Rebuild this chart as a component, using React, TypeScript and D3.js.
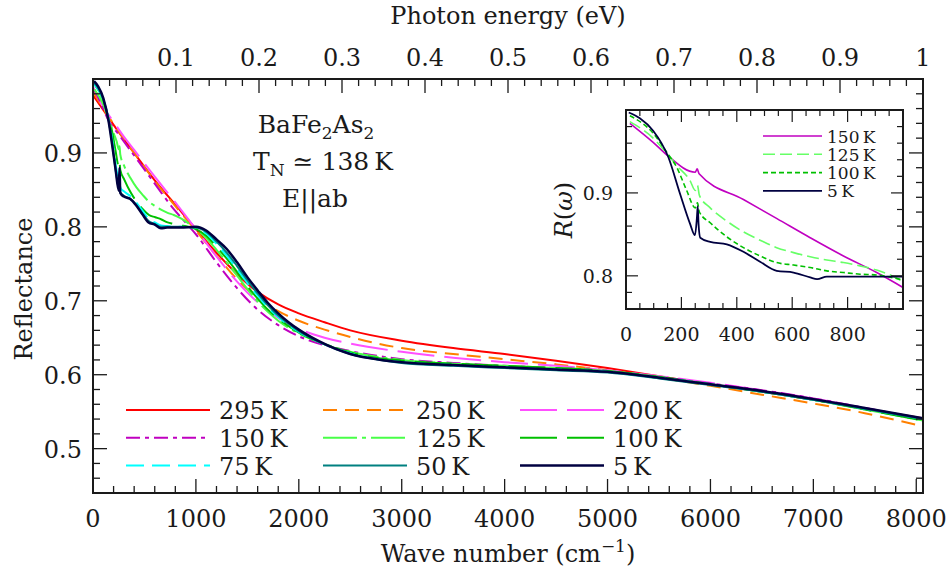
import * as d3 from "d3";

type Pt = [number, number];

// reflectance curves, main panel: [wave number cm^-1, R]
const r295: Pt[] = [[0, 0.978], [100, 0.958], [200, 0.938], [400, 0.9], [600, 0.863], [800, 0.83], [1000, 0.797], [1200, 0.765], [1400, 0.736], [1600, 0.712], [1800, 0.695], [2000, 0.683], [2250, 0.671], [2500, 0.66], [3000, 0.646], [3500, 0.636], [4000, 0.628], [4500, 0.619], [5000, 0.609], [5500, 0.598], [6000, 0.587], [6500, 0.577], [7000, 0.566], [7500, 0.554], [8065, 0.541]];
const r250: Pt[] = [[0, 0.983], [100, 0.96], [200, 0.939], [400, 0.9], [600, 0.862], [800, 0.828], [1000, 0.795], [1200, 0.761], [1400, 0.729], [1600, 0.704], [1800, 0.686], [2000, 0.673], [2250, 0.661], [2500, 0.651], [3000, 0.636], [3500, 0.628], [4000, 0.621], [4500, 0.614], [5000, 0.606], [5500, 0.596], [6000, 0.585], [6500, 0.573], [7000, 0.561], [7500, 0.548], [8065, 0.53]];
const r200: Pt[] = [[0, 0.99], [50, 0.975], [100, 0.962], [200, 0.942], [300, 0.922], [400, 0.904], [600, 0.868], [800, 0.833], [1000, 0.797], [1200, 0.76], [1400, 0.726], [1600, 0.698], [1800, 0.677], [2000, 0.662], [2250, 0.65], [2500, 0.642], [3000, 0.631], [3500, 0.623], [4000, 0.617], [4500, 0.612], [5000, 0.606], [5500, 0.598], [6000, 0.589], [6500, 0.579], [7000, 0.568], [7500, 0.555], [8065, 0.54]];
const r150: Pt[] = [[0, 0.986], [14, 0.984], [98, 0.96], [147, 0.945], [255, 0.924], [424, 0.892], [545, 0.869], [665, 0.846], [785, 0.824], [905, 0.805], [1000, 0.79], [1200, 0.752], [1400, 0.717], [1600, 0.688], [1800, 0.667], [2000, 0.652], [2250, 0.64], [2500, 0.632], [3000, 0.621], [3500, 0.616], [4000, 0.612], [4500, 0.609], [5000, 0.605], [5500, 0.597], [6000, 0.588], [6500, 0.579], [7000, 0.568], [7500, 0.555], [8065, 0.54]];
const r125: Pt[] = [[14, 0.986], [98, 0.966], [147, 0.948], [183, 0.933], [231, 0.915], [250, 0.905], [258, 0.909], [265, 0.898], [304, 0.882], [364, 0.866], [424, 0.853], [484, 0.843], [544, 0.834], [605, 0.828], [665, 0.823], [725, 0.819], [785, 0.816], [845, 0.812], [905, 0.807], [1000, 0.797], [1100, 0.785], [1200, 0.769], [1300, 0.752], [1400, 0.734], [1500, 0.716], [1600, 0.699], [1700, 0.685], [1800, 0.673], [2000, 0.656], [2200, 0.644], [2500, 0.631], [3000, 0.62], [3500, 0.615], [4000, 0.612], [4500, 0.609], [5000, 0.605], [5500, 0.597], [6000, 0.587], [6500, 0.577], [7000, 0.566], [7500, 0.553], [8065, 0.538]];
const r100: Pt[] = [[14, 0.993], [98, 0.972], [147, 0.949], [183, 0.931], [219, 0.903], [250, 0.882], [258, 0.888], [265, 0.877], [304, 0.864], [364, 0.847], [424, 0.834], [484, 0.824], [544, 0.816], [605, 0.813], [665, 0.81], [725, 0.806], [785, 0.804], [845, 0.802], [905, 0.801], [1000, 0.797], [1100, 0.788], [1200, 0.773], [1300, 0.757], [1400, 0.739], [1500, 0.72], [1600, 0.703], [1700, 0.688], [1800, 0.676], [2000, 0.657], [2200, 0.644], [2500, 0.63], [3000, 0.619], [3500, 0.615], [4000, 0.612], [4500, 0.609], [5000, 0.605], [5500, 0.597], [6000, 0.587], [6500, 0.577], [7000, 0.566], [7500, 0.553], [8065, 0.538]];
const r75: Pt[] = [[10, 0.993], [50, 0.986], [100, 0.972], [150, 0.947], [190, 0.915], [225, 0.88], [250, 0.862], [270, 0.852], [300, 0.848], [360, 0.842], [420, 0.833], [480, 0.822], [540, 0.811], [600, 0.806], [660, 0.802], [720, 0.801], [850, 0.8], [1000, 0.799], [1100, 0.791], [1200, 0.777], [1300, 0.761], [1400, 0.743], [1500, 0.724], [1600, 0.707], [1700, 0.691], [1800, 0.678], [2000, 0.658], [2200, 0.644], [2500, 0.629], [2800, 0.62], [3000, 0.617], [3500, 0.613], [4000, 0.61], [4500, 0.607], [5000, 0.604], [5500, 0.596], [6000, 0.587], [6500, 0.577], [7000, 0.566], [7500, 0.554], [8065, 0.54]];
const r50: Pt[] = [[10, 0.995], [50, 0.988], [100, 0.973], [150, 0.945], [190, 0.91], [225, 0.872], [250, 0.853], [265, 0.847], [300, 0.842], [360, 0.838], [420, 0.83], [480, 0.818], [540, 0.808], [600, 0.804], [660, 0.8], [720, 0.8], [850, 0.8], [1000, 0.799], [1100, 0.793], [1200, 0.78], [1300, 0.765], [1400, 0.747], [1500, 0.728], [1600, 0.71], [1700, 0.694], [1800, 0.68], [1900, 0.669], [2000, 0.659], [2200, 0.644], [2500, 0.628], [2800, 0.62], [3000, 0.616], [3500, 0.612], [4000, 0.609], [4500, 0.606], [5000, 0.603], [5500, 0.595], [6000, 0.586], [6500, 0.577], [7000, 0.566], [7500, 0.554], [8065, 0.54]];
const r5: Pt[] = [[10, 0.997], [50, 0.99], [100, 0.974], [150, 0.944], [185, 0.912], [220, 0.877], [250, 0.849], [258, 0.88], [265, 0.846], [300, 0.841], [360, 0.838], [420, 0.829], [480, 0.817], [540, 0.806], [600, 0.803], [660, 0.798], [720, 0.799], [850, 0.799], [1000, 0.8], [1100, 0.795], [1200, 0.783], [1300, 0.77], [1400, 0.752], [1500, 0.732], [1600, 0.714], [1700, 0.697], [1800, 0.683], [1900, 0.671], [2000, 0.661], [2200, 0.645], [2500, 0.628], [2800, 0.62], [3000, 0.617], [3500, 0.613], [4000, 0.61], [4500, 0.607], [5000, 0.604], [5500, 0.596], [6000, 0.587], [6500, 0.578], [7000, 0.567], [7500, 0.555], [8065, 0.541]];

// inset, far-infrared detail
const in150: Pt[] = [[14, 0.984], [98, 0.961], [147, 0.946], [250, 0.925], [257, 0.929], [264, 0.923], [424, 0.892], [545, 0.869], [665, 0.846], [785, 0.824], [905, 0.804], [1000, 0.786]];
const in125: Pt[] = [[14, 0.986], [98, 0.966], [147, 0.948], [183, 0.933], [231, 0.915], [250, 0.903], [258, 0.909], [265, 0.897], [304, 0.882], [364, 0.866], [424, 0.853], [484, 0.843], [544, 0.834], [605, 0.828], [665, 0.823], [725, 0.819], [785, 0.816], [845, 0.812], [905, 0.807], [960, 0.8], [1000, 0.793]];
const in100: Pt[] = [[14, 0.993], [98, 0.972], [147, 0.949], [183, 0.931], [219, 0.903], [250, 0.882], [258, 0.888], [265, 0.877], [304, 0.864], [364, 0.847], [424, 0.834], [484, 0.824], [544, 0.816], [605, 0.813], [665, 0.81], [725, 0.806], [785, 0.804], [845, 0.802], [905, 0.801], [1000, 0.795]];
const in5: Pt[] = [[10, 0.997], [50, 0.99], [98, 0.975], [153, 0.943], [195, 0.899], [231, 0.863], [249, 0.849], [256, 0.87], [259, 0.884], [262, 0.862], [268, 0.846], [304, 0.841], [364, 0.838], [424, 0.829], [484, 0.817], [544, 0.806], [605, 0.804], [665, 0.798], [690, 0.796], [725, 0.799], [846, 0.799], [1000, 0.799]];

const mainSeries = [
  { label: "295", data: r295, color: "#ff0000", dash: "", w: 2 },
  { label: "250", data: r250, color: "#ff8000", dash: "14 8", w: 2 },
  { label: "200", data: r200, color: "#ff50ff", dash: "37 10", w: 2 },
  { label: "150", data: r150, color: "#c000c0", dash: "14 5 4 5", w: 2 },
  { label: "125", data: r125, color: "#48ff48", dash: "34 5 4 5", w: 2 },
  { label: "100", data: r100, color: "#00c000", dash: "37 10", w: 2 },
  { label: "75", data: r75, color: "#00ffff", dash: "18 8", w: 2 },
  { label: "50", data: r50, color: "#008080", dash: "", w: 2 },
  { label: "5", data: r5, color: "#000040", dash: "", w: 2.5 },
];

const insetSeries = [
  { label: "150", data: in150, color: "#c000c0", dash: "", w: 1.6 },
  { label: "125", data: in125, color: "#66ff66", dash: "12 5", w: 1.6 },
  { label: "100", data: in100, color: "#00c000", dash: "5 3", w: 1.6 },
  { label: "5", data: in5, color: "#000040", dash: "", w: 1.8 },
];

const FONT = "DejaVu Serif";
const INK = "#1a1a1a";

export default function App() {
  const x = d3.scaleLinear().domain([0, 8065.5]).range([93, 923]);
  const y = d3.scaleLinear().domain([0.44, 1.0]).range([493, 79]);
  const eV = d3.scaleLinear().domain([0, 1]).range([93, 923]);
  const xi = d3.scaleLinear().domain([0, 1000]).range([626, 903]);
  const yi = d3.scaleLinear().domain([0.76, 1.0]).range([309, 110]);

  const line = d3.line<Pt>().x((d) => x(d[0])).y((d) => y(d[1])).curve(d3.curveMonotoneX);
  const lineI = d3.line<Pt>().x((d) => xi(d[0])).y((d) => yi(d[1])).curve(d3.curveMonotoneX);

  const isMajor = (v: number, step: number) => Math.abs(v / step - Math.round(v / step)) < 1e-6;

  const wnTicks = d3.range(0, 41).map((i) => i * 200);
  const eVTicks = d3.range(1, 51).map((i) => i * 0.02);
  const rTicks = d3.range(1, 28).map((i) => 0.44 + i * 0.02);
  const wnTicksI = d3.range(1, 20).map((i) => i * 50);
  const rTicksI = d3.range(1, 12).map((i) => 0.76 + i * 0.02);

  const [x0, x1] = x.range();
  const [y0, y1] = y.range();
  const [xi0, xi1] = xi.range();
  const [yi0, yi1] = yi.range();

  const legendRows = [
    [mainSeries[0], mainSeries[1], mainSeries[2]],
    [mainSeries[3], mainSeries[4], mainSeries[5]],
    [mainSeries[6], mainSeries[7], mainSeries[8]],
  ];

  return (
    <svg width={952} height={576} style={{ position: "absolute", left: 0, top: 0, background: "#fff" }} fontFamily={FONT}>
      <defs>
        <clipPath id="main-clip">
          <rect x={x0} y={y1} width={x1 - x0} height={y0 - y1} />
        </clipPath>
        <clipPath id="inset-clip">
          <rect x={xi0} y={yi1} width={xi1 - xi0} height={yi0 - yi1} />
        </clipPath>
      </defs>

      <g clipPath="url(#main-clip)" fill="none">
        {mainSeries.map((s) => (
          <path key={s.label} d={line(s.data) ?? ""} stroke={s.color} strokeWidth={s.w} strokeDasharray={s.dash} />
        ))}
      </g>

      {/* main ticks */}
      <g stroke={INK} strokeWidth={1.3}>
        {wnTicks.map((t) => {
          const L = isMajor(t, 1000) ? 14 : 7;
          return <line key={"b" + t} x1={x(t)} x2={x(t)} y1={y0} y2={y0 - L} />;
        })}
        {eVTicks.map((t) => {
          const L = isMajor(t, 0.1) ? 14 : 7;
          return <line key={"t" + t} x1={eV(t)} x2={eV(t)} y1={y1} y2={y1 + L} />;
        })}
        {rTicks.map((t) => {
          const L = isMajor(t, 0.1) ? 14 : 7;
          return (
            <g key={"l" + t}>
              <line x1={x0} x2={x0 + L} y1={y(t)} y2={y(t)} />
              <line x1={x1} x2={x1 - L} y1={y(t)} y2={y(t)} />
            </g>
          );
        })}
      </g>
      <rect x={x0} y={y1} width={x1 - x0} height={y0 - y1} fill="none" stroke={INK} strokeWidth={2} />

      {/* main tick labels */}
      <g fontSize={24} fill={INK}>
        {wnTicks.filter((t) => isMajor(t, 1000)).map((t) => (
          <text key={"bl" + t} x={x(t)} y={527} textAnchor="middle">{t}</text>
        ))}
        {eVTicks.filter((t) => isMajor(t, 0.1)).map((t) => (
          <text key={"tl" + t} x={eV(t)} y={66} textAnchor="middle">{Math.abs(t - 1) < 1e-6 ? "1" : d3.format(".1f")(t)}</text>
        ))}
        {rTicks.filter((t) => isMajor(t, 0.1)).map((t) => (
          <text key={"ll" + t} x={82} y={y(t) + 9} textAnchor="end">{d3.format(".1f")(t)}</text>
        ))}
        <text x={508} y={24} textAnchor="middle">Photon energy (eV)</text>
        <text x={508} y={562} textAnchor="middle">
          Wave number (cm<tspan fontSize={17} dy={-10}>−1</tspan><tspan dy={10}>)</tspan>
        </text>
        <text transform="translate(32,289) rotate(-90)" textAnchor="middle">Reflectance</text>
      </g>

      {/* sample annotation */}
      <g fontSize={25} fill={INK} textAnchor="middle">
        <text x={316} y={133}>
          BaFe<tspan fontSize={17} dy={6}>2</tspan><tspan dy={-6}>As</tspan><tspan fontSize={17} dy={6}>2</tspan>
        </text>
        <text x={323} y={170}>
          T<tspan fontSize={17} dy={6}>N</tspan><tspan dy={-6}> ≃ 138{"\u2009"}K</tspan>
        </text>
        <text x={315} y={207}>E||ab</text>
      </g>

      {/* main legend */}
      <g fontSize={24} fill={INK}>
        {legendRows.map((row, ri) =>
          row.map((s, ci) => {
            const lx = 126 + ci * 197;
            const ly = 410 + ri * 27.8;
            return (
              <g key={s.label}>
                <line x1={lx} x2={lx + 84} y1={ly} y2={ly} stroke={s.color} strokeWidth={s.w} strokeDasharray={s.dash} />
                <text x={lx + 93} y={ly + 9}>{s.label}{"\u2009"}K</text>
              </g>
            );
          })
        )}
      </g>

      {/* inset */}
      <rect x={xi0} y={yi1} width={xi1 - xi0} height={yi0 - yi1} fill="#fff" />
      <g clipPath="url(#inset-clip)" fill="none">
        {insetSeries.map((s) => (
          <path key={"i" + s.label} d={lineI(s.data) ?? ""} stroke={s.color} strokeWidth={s.w} strokeDasharray={s.dash} />
        ))}
      </g>
      <g stroke={INK} strokeWidth={1.2}>
        {wnTicksI.map((t) => {
          const L = isMajor(t, 200) ? 12 : 6;
          return (
            <g key={"ib" + t}>
              <line x1={xi(t)} x2={xi(t)} y1={yi0} y2={yi0 - L} />
              <line x1={xi(t)} x2={xi(t)} y1={yi1} y2={yi1 + L} />
            </g>
          );
        })}
        {rTicksI.map((t) => {
          const L = isMajor(t, 0.1) ? 12 : 6;
          return (
            <g key={"il" + t}>
              <line x1={xi0} x2={xi0 + L} y1={yi(t)} y2={yi(t)} />
              <line x1={xi1} x2={xi1 - L} y1={yi(t)} y2={yi(t)} />
            </g>
          );
        })}
      </g>
      <rect x={xi0} y={yi1} width={xi1 - xi0} height={yi0 - yi1} fill="none" stroke={INK} strokeWidth={2} />
      <g fontSize={19} fill={INK}>
        {wnTicksI.filter((t) => isMajor(t, 200) && t < 1000).map((t) => (
          <text key={"ibl" + t} x={xi(t)} y={341} textAnchor="middle">{t}</text>
        ))}
        <text x={xi(0)} y={341} textAnchor="middle">0</text>
        {rTicksI.filter((t) => isMajor(t, 0.1)).map((t) => (
          <text key={"ill" + t} x={613} y={yi(t) + 7} textAnchor="end">{d3.format(".1f")(t)}</text>
        ))}
        <text transform="translate(572,210) rotate(-90)" textAnchor="middle" fontSize={24}>
          <tspan fontStyle="italic">R</tspan>(<tspan fontStyle="italic">ω</tspan>)
        </text>
      </g>
      <g fontSize={17} fill={INK}>
        {insetSeries.map((s, i) => {
          const ly = 136 + i * 18.3;
          return (
            <g key={"ileg" + s.label}>
              <line x1={763} x2={822} y1={ly} y2={ly} stroke={s.color} strokeWidth={s.w} strokeDasharray={s.dash} />
              <text x={827} y={ly + 6.5}>{s.label}{"\u2009"}K</text>
            </g>
          );
        })}
      </g>
    </svg>
  );
}
